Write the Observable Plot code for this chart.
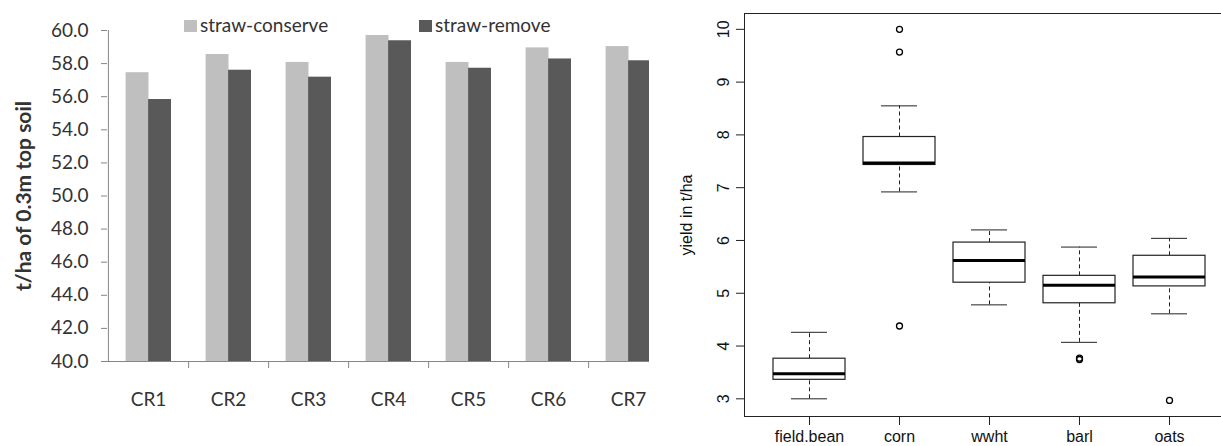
<!DOCTYPE html>
<html><head><meta charset="utf-8">
<script src="https://cdn.jsdelivr.net/npm/d3@7"></script>
<script src="https://cdn.jsdelivr.net/npm/@observablehq/plot@0.6"></script>
<style>
html,body{margin:0;padding:0;background:#fff;}
#wrap{position:relative;width:1221px;height:446px;overflow:hidden;background:#fff;}
#left{position:absolute;left:0;top:0;width:668px;}
#right{position:absolute;left:649px;top:0;width:600px;background:#fff;}
#wrap svg{max-width:none !important;}
.leg{position:absolute;font-family:Lato,sans-serif;font-size:19px;color:#333;line-height:20px;white-space:nowrap;}
.sw{position:absolute;width:13px;height:12px;}
</style></head><body>
<div id="wrap"><div id="left"></div><div id="legend"></div><div id="right"></div></div>
<script>
// ---- left panel data ----
const rotations = ["CR1", "CR2", "CR3", "CR4", "CR5", "CR6", "CR7"];
const strawConserve = [57.45, 58.55, 58.07, 59.70, 58.07, 58.95, 59.03];
const strawRemove = [55.83, 57.60, 57.18, 59.38, 57.72, 58.28, 58.17];
const leftTicks = [40, 42, 44, 46, 48, 50, 52, 54, 56, 58, 60];
const seriesNames = ["straw-conserve", "straw-remove"];
const seriesColors = ["#bfbfbf", "#595959"];
const leftTitle = "t/ha of 0.3m top soil";

// ---- right panel data ----
const crops = ["field.bean", "corn", "wwht", "barl", "oats"];
const whiskerLow = [3.00, 6.92, 4.78, 4.07, 4.61];
const quart1 = [3.36, 7.43, 5.20, 4.81, 5.13];
const medians = [3.475, 7.47, 5.62, 5.15, 5.31];
const quart3 = [3.76, 7.96, 5.96, 5.33, 5.71];
const whiskerHigh = [4.26, 8.55, 6.20, 5.875, 6.04];
const outlierCrop = ["corn", "corn", "corn", "barl", "barl", "oats"];
const outlierValue = [10.0, 9.57, 4.38, 3.77, 3.745, 2.97];
const rightTicks = [3, 4, 5, 6, 7, 8, 9, 10];
const rightTitle = "yield in t/ha";

// ---- left chart ----
const rowsC = rotations.map((c, i) => ({cat: c, v: strawConserve[i]}));
const rowsR = rotations.map((c, i) => ({cat: c, v: strawRemove[i]}));
const gray = "#868686";
const left = Plot.plot({
  width: 668, height: 446,
  marginLeft: 107, marginRight: 0, marginTop: 30, marginBottom: 85,
  style: {fontFamily: "Lato, sans-serif", fontSize: "19px", color: "#333", background: "transparent"},
  x: {domain: rotations, padding: 0, axis: null},
  y: {domain: [40, 60], axis: null},
  marks: [
    Plot.barY(rowsC, {x: "cat", y1: 40, y2: "v", fill: seriesColors[0], insetLeft: 17.6, insetRight: 39.5}),
    Plot.barY(rowsR, {x: "cat", y1: 40, y2: "v", fill: seriesColors[1], insetLeft: 40.1, insetRight: 17}),
    Plot.ruleY([40], {stroke: gray}),
    Plot.ruleX([rotations[0]], {dx: -40.1, y1: 40, y2: 60, stroke: gray}),
    Plot.ruleX(rotations, {dx: 40.1, y1: 40, y2: 40, insetBottom: -7, stroke: gray}),
    Plot.axisY(leftTicks, {label: null, tickSize: 6, tickPadding: 13, tickFormat: d3.format(".1f"), stroke: gray, fill: "#333", fontSize: 19}),
    Plot.axisX({label: null, tickSize: 0, tickPadding: 31, fill: "#333", fontSize: 19}),
    Plot.text([leftTitle], {frameAnchor: "left", textAnchor: "middle", dx: -83, rotate: -90, fontWeight: "bold", fontSize: 21, fill: "#333"})
  ]
});
document.getElementById("left").appendChild(left);

// legend
const legend = document.getElementById("legend");
const legPos = [[184, 200], [419, 435]];
seriesNames.forEach((s, i) => {
  const sw = document.createElement("div");
  sw.className = "sw";
  sw.style.left = legPos[i][0] + "px"; sw.style.top = "20px"; sw.style.background = seriesColors[i];
  legend.appendChild(sw);
  const t = document.createElement("div");
  t.className = "leg";
  t.style.left = legPos[i][1] + "px"; t.style.top = "15px";
  t.textContent = s;
  legend.appendChild(t);
});

// ---- right chart ----
const boxes = crops.map((c, i) => ({crop: c, lo: whiskerLow[i], q1: quart1[i], med: medians[i], q3: quart3[i], hi: whiskerHigh[i]}));
const outs = outlierCrop.map((c, i) => ({crop: c, v: outlierValue[i]}));
const ink = "#222";
const right = Plot.plot({
  width: 600, height: 460,
  marginLeft: 95, marginRight: 15, marginTop: 13, marginBottom: 44,
  style: {fontFamily: "'Liberation Sans', Arial, sans-serif", fontSize: "16px", color: "#111", background: "#fff"},
  x: {domain: crops, paddingInner: 0.2, paddingOuter: 0.3, axis: null},
  y: {domain: [2.665, 10.3], axis: null},
  marks: [
    Plot.frame({stroke: ink}),
    Plot.ruleX(boxes, {x: "crop", y1: "q3", y2: "hi", stroke: ink, strokeDasharray: "4,3"}),
    Plot.ruleX(boxes, {x: "crop", y1: "lo", y2: "q1", stroke: ink, strokeDasharray: "4,3"}),
    Plot.tickY(boxes, {x: "crop", y: "hi", stroke: ink, insetLeft: 18, insetRight: 18}),
    Plot.tickY(boxes, {x: "crop", y: "lo", stroke: ink, insetLeft: 18, insetRight: 18}),
    Plot.barY(boxes, {x: "crop", y1: "q1", y2: "q3", fill: "#fff", stroke: ink, strokeWidth: 1.2}),
    Plot.tickY(boxes, {x: "crop", y: "med", stroke: "#000", strokeWidth: 3}),
    Plot.dot(outs, {x: "crop", y: "v", r: 3, stroke: "#000", strokeWidth: 1.3}),
    Plot.axisY(rightTicks, {label: null, tickSize: 8, tickPadding: 8, tickRotate: -90, tickFormat: d => String(d), fontSize: 16, stroke: ink, fill: "#111"}),
    Plot.axisX({label: null, tickSize: 9, tickPadding: 5, fontSize: 16, stroke: ink, fill: "#111"}),
    Plot.text([rightTitle], {frameAnchor: "left", textAnchor: "middle", dx: -58, rotate: -90, fontSize: 16, fill: "#111"})
  ]
});
document.getElementById("right").appendChild(right);
</script>
</body></html>
